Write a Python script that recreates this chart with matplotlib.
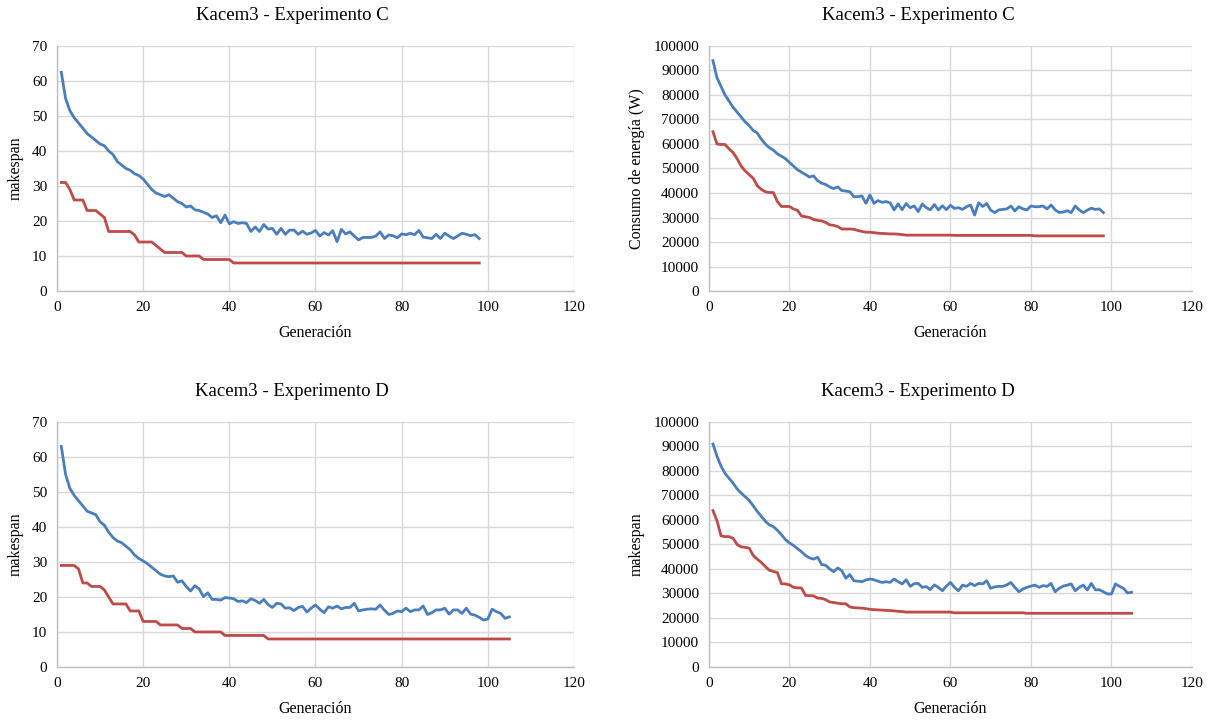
import matplotlib
matplotlib.use("Agg")
import matplotlib.pyplot as plt

plt.rcParams['font.family'] = ['Liberation Serif', 'DejaVu Serif']

# --- Experimento C (98 generaciones) ---
makespan_c_blue = [62.5, 55, 51.5, 49.5, 48, 46.5, 45, 44, 43, 42,
                   41.5, 40, 39, 37, 36, 35, 34.5, 33.5, 33, 32,
                   30.5, 29, 28, 27.5, 27, 27.5, 26.5, 25.5, 25, 24,
                   24.3, 23.2, 23, 22.5, 22, 21, 21.5, 19.5, 21.7, 19.2,
                   19.8, 19.3, 19.5, 19.3, 17, 18.3, 17, 19, 17.7, 17.9,
                   16.2, 17.9, 16.2, 17.4, 17.4, 16.2, 17.1, 16.2, 16.6, 17.3,
                   15.7, 16.7, 16, 17.2, 14.1, 17.6, 16.3, 16.9, 15.7, 14.6,
                   15.3, 15.3, 15.3, 15.7, 16.9, 15, 16, 15.8, 15.2, 16.3,
                   16.1, 16.5, 16.1, 17.3, 15.4, 15.2, 15, 16.2, 15, 16.5,
                   15.7, 15, 15.7, 16.5, 16.2, 15.8, 16.1, 15]
makespan_c_red = ([31, 31, 29, 26, 26, 26, 23, 23, 23, 22,
                   21, 17, 17, 17, 17, 17, 17, 16, 14, 14,
                   14, 14, 13, 12, 11, 11, 11, 11, 11, 10,
                   10, 10, 10, 9, 9, 9, 9, 9, 9, 9] + [8] * 58)

energia_c_blue = [94000, 87000, 83500, 80000, 77500, 75000, 73000, 71000, 69000, 67500,
                  65500, 64500, 62000, 60000, 58500, 57500, 56000, 55000, 54000, 52500,
                  51000, 49500, 48500, 47500, 46500, 47000, 45000, 44000, 43500, 42500,
                  41800, 42500, 41000, 40800, 40500, 38500, 38500, 38800, 35800, 39200,
                  35800, 36900, 36200, 36500, 36000, 33100, 35500, 33200, 35700, 34000,
                  34700, 32400, 35500, 34000, 33100, 35300, 33100, 34800, 33200, 35000,
                  33700, 34000, 33300, 34400, 35100, 31000, 36000, 34500, 35700, 33000,
                  32000, 33100, 33300, 33500, 34700, 32700, 34400, 33500, 33100, 34700,
                  34400, 34400, 34700, 33500, 35100, 33100, 32100, 32200, 32800, 32000,
                  34700, 33100, 32000, 33000, 33800, 33300, 33500, 32000]
energia_c_red = ([65000, 60000, 59800, 59800, 58000, 56500, 54000, 51000, 49000, 47500,
                  46000, 43000, 41500, 40500, 40200, 40200, 36500, 34500, 34500, 34500,
                  33500, 32900, 30600, 30300, 30000, 29200, 28800, 28600, 28000, 27000,
                  26800, 26300, 25300, 25300, 25300, 25200, 24700, 24300, 24000, 24000,
                  23800, 23600, 23500, 23400, 23300, 23300, 23200, 23000]
                 + [22800] * 12 + [22700] * 20 + [22500] * 18)

# --- Experimento D (105 generaciones) ---
makespan_d_blue = [63, 55, 51, 49, 47.5, 46, 44.5, 44, 43.5, 41.5,
                   40.5, 38.5, 37, 36, 35.5, 34.5, 33.5, 32, 31, 30.3,
                   29.5, 28.5, 27.5, 26.5, 26, 25.8, 26, 24.2, 24.6, 23,
                   21.7, 23.2, 22.3, 20.1, 21.2, 19.3, 19.3, 19.1, 19.8, 19.7,
                   19.5, 18.7, 18.9, 18.4, 19.5, 19, 18.2, 19.3, 17.8, 17,
                   18.2, 18, 16.8, 16.9, 16.1, 17, 17.3, 15.7, 16.8, 17.7,
                   16.5, 15.5, 17.2, 16.8, 17.4, 16.6, 17, 17, 18.2, 16,
                   16.3, 16.5, 16.6, 16.5, 17.7, 16.2, 15, 15.3, 16, 15.8,
                   16.8, 15.8, 16.3, 16.3, 17.4, 15, 15.5, 16.3, 16.3, 16.8,
                   15.1, 16.3, 16.3, 15.3, 16.8, 15.1, 14.8, 14.2, 13.4, 13.7,
                   16.5, 15.8, 15.3, 13.9, 14.3]
makespan_d_red = ([29, 29, 29, 29, 28, 24, 24, 23, 23, 23,
                   22, 20, 18, 18, 18, 18, 16, 16, 16, 13,
                   13, 13, 13, 12, 12, 12, 12, 12, 11, 11,
                   11, 10, 10, 10, 10, 10, 10, 10] + [9] * 10 + [8] * 57)

energia_d_blue = [91000, 86000, 82000, 79000, 77000, 75000, 72700, 71000, 69500, 68000,
                  65800, 63500, 61500, 59500, 58000, 57300, 55800, 54000, 52000, 50600,
                  49600, 48300, 47000, 45500, 44500, 44000, 44800, 41800, 41500, 40000,
                  38900, 40400, 39300, 36200, 37700, 35200, 35000, 34800, 35500, 35900,
                  35600, 35000, 34500, 34800, 34500, 35900, 34800, 33900, 35600, 32900,
                  34000, 34100, 32500, 32800, 31600, 33500, 32500, 31100, 33000, 34500,
                  32500, 31100, 33400, 32900, 34100, 33200, 34100, 33900, 35200, 32100,
                  32700, 32900, 32900, 33500, 34500, 32500, 30700, 31800, 32500, 33000,
                  33400, 32500, 33200, 32900, 34100, 30700, 32100, 33000, 33400, 33900,
                  31100, 32500, 33400, 31400, 34100, 31500, 31500, 30700, 29800, 29800,
                  33900, 32900, 32100, 30200, 30500]
energia_d_red = ([63800, 59700, 53500, 53200, 53200, 52500, 50000, 49000, 48800, 48500,
                  45500, 44000, 42700, 41000, 39500, 39000, 38500, 34000, 33900, 33500,
                  32500, 32300, 32200, 29200, 29100, 29000, 28100, 28000, 27500, 26500,
                  26300, 26000, 25800, 25800, 24500, 24200, 24100, 24000, 23800, 23500,
                  23400, 23300, 23200, 23100, 23000, 22900, 22700, 22600]
                 + [22400] * 12 + [22100] * 18 + [21900] * 27)

BLUE = '#4a7ebb'
RED = '#be4b48'
GRID = '#d9d9d9'

# axes rect, blue, red, title, ylabel, ymax, ystep, title x, title y (figure coords)
panels = [
    ([0.0467, 0.5975, 0.4238, 0.3389], makespan_c_blue, makespan_c_red,
     'Kacem3 - Experimento C', 'makespan', 70, 10, 0.2395, 0.978),
    ([0.5811, 0.5975, 0.3959, 0.3389], energia_c_blue, energia_c_red,
     'Kacem3 - Experimento C', 'Consumo de energía (W)', 100000, 10000, 0.7525, 0.978),
    ([0.0467, 0.0775, 0.4238, 0.3389], makespan_d_blue, makespan_d_red,
     'Kacem3 - Experimento D', 'makespan', 70, 10, 0.2395, 0.459),
    ([0.5811, 0.0775, 0.3959, 0.3389], energia_d_blue, energia_d_red,
     'Kacem3 - Experimento D', 'makespan', 100000, 10000, 0.7525, 0.459),
]

fig = plt.figure(figsize=(12.2, 7.23), dpi=100)

for rect, blue, red, title, ylabel, ymax, ystep, tx, ty in panels:
    ax = fig.add_axes(rect)
    gen_b = list(range(1, len(blue) + 1))
    gen_r = list(range(1, len(red) + 1))
    ax.plot(gen_b, blue, color=BLUE, lw=2.0, solid_joinstyle='round')
    ax.plot(gen_r, red, color=RED, lw=2.0, solid_joinstyle='round')
    ax.set_xlim(0, 120)
    ax.set_ylim(0, ymax)
    ax.set_xticks(range(0, 121, 20))
    ax.set_yticks(range(0, ymax + 1, ystep))
    ax.grid(True, color=GRID, lw=1.0)
    ax.set_axisbelow(True)
    for s in ['top', 'right']:
        ax.spines[s].set_visible(False)
    for s in ['left', 'bottom']:
        ax.spines[s].set_color('#bfbfbf')
        ax.spines[s].set_linewidth(1.0)
    ax.tick_params(length=0, labelsize=11, pad=7)
    ax.set_xlabel('Generación', fontsize=11.5, labelpad=8)
    ax.set_ylabel(ylabel, fontsize=11.5, labelpad=6)
    fig.text(tx, ty, title, fontsize=13.5, ha='center', va='center')

fig.savefig('out.png', dpi=100)
